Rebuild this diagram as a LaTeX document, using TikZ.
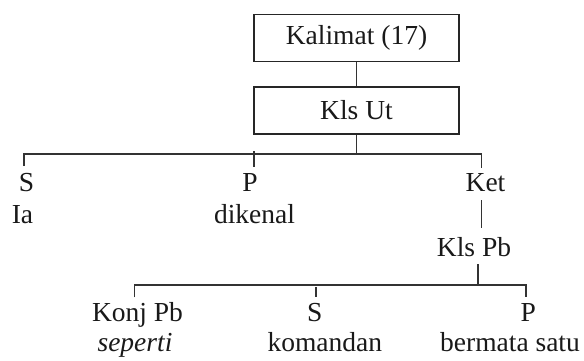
\documentclass[tikz,border=0pt]{standalone}
\usepackage{fontspec}
\setmainfont{Liberation Serif}
\begin{document}
\begin{tikzpicture}[x=1pt,y=-1pt,
  every node/.style={font=\fontsize{27.5}{33}\selectfont, text=black!90},
  frame/.style={draw=black!85, line width=1.2pt, minimum width=205pt, minimum height=47pt, inner sep=0pt},
  word/.style={anchor=base, inner sep=0pt},
  link/.style={draw=black!80, line width=1.1pt}]
\useasboundingbox (0,0) rectangle (584,360);

% boxed top levels
\node[frame] (kal) at (356.5,38) {Kalimat (17)};
\node[frame] (klsut) at (356.5,110.5) {Kls Ut};

% first level constituents
\node[word] (s1)  at (26.5,191.7) {S};
\node[word] (ia)  at (22.5,223.3) {Ia};
\node[word] (p1)  at (250,191.7) {P};
\node[word] (dik) at (254.5,223.3) {dikenal};
\node[word] (ket) at (485.5,191.7) {Ket};
\node[word] (klspb) at (474,256.7) {Kls Pb};

% second level constituents
\node[word] (konj) at (137.5,321.7) {Konj Pb};
\node[word] (sep)  at (135,351.7) {\itshape seperti};
\node[word] (s2)   at (314.7,321.7) {S};
\node[word] (kom)  at (324.8,351.7) {komandan};
\node[word] (p2)   at (528.3,321.7) {P};
\node[word] (ber)  at (510,351.7) {bermata satu};

% junction points of the first bracket
\coordinate (j1)  at (356.5,154);
\coordinate (b1w) at (24,154);
\coordinate (b1e) at (481.5,154);
\coordinate (t1s) at (24,166);
\coordinate (t1pa) at (254,151);
\coordinate (t1pb) at (254,167);
\coordinate (t1k) at (481.5,168);

% junction points of the second bracket
\coordinate (k1) at (481.5,200);
\coordinate (k2) at (481.5,228.3);
\coordinate (j2)  at (478,285);
\coordinate (m1)  at (478,264);
\coordinate (b2w) at (134.3,285);
\coordinate (b2e) at (526,285);
\coordinate (t2k) at (134.3,297.3);
\coordinate (t2sa) at (316,287.3);
\coordinate (t2sb) at (316,297.3);
\coordinate (t2p) at (526,297.3);

% connectors
\draw[link] (kal.south) -- (klsut.north);
\draw[link] (klsut.south) -- (j1);
\draw[link] (t1s) -- (b1w) -- (b1e) -- (t1k);
\draw[link] (t1pa) -- (t1pb);
\draw[link] (k1) -- (k2);
\draw[link] (m1) -- (j2);
\draw[link] (t2k) -- (b2w) -- (b2e) -- (t2p);
\draw[link] (t2sa) -- (t2sb);
\end{tikzpicture}
\end{document}
